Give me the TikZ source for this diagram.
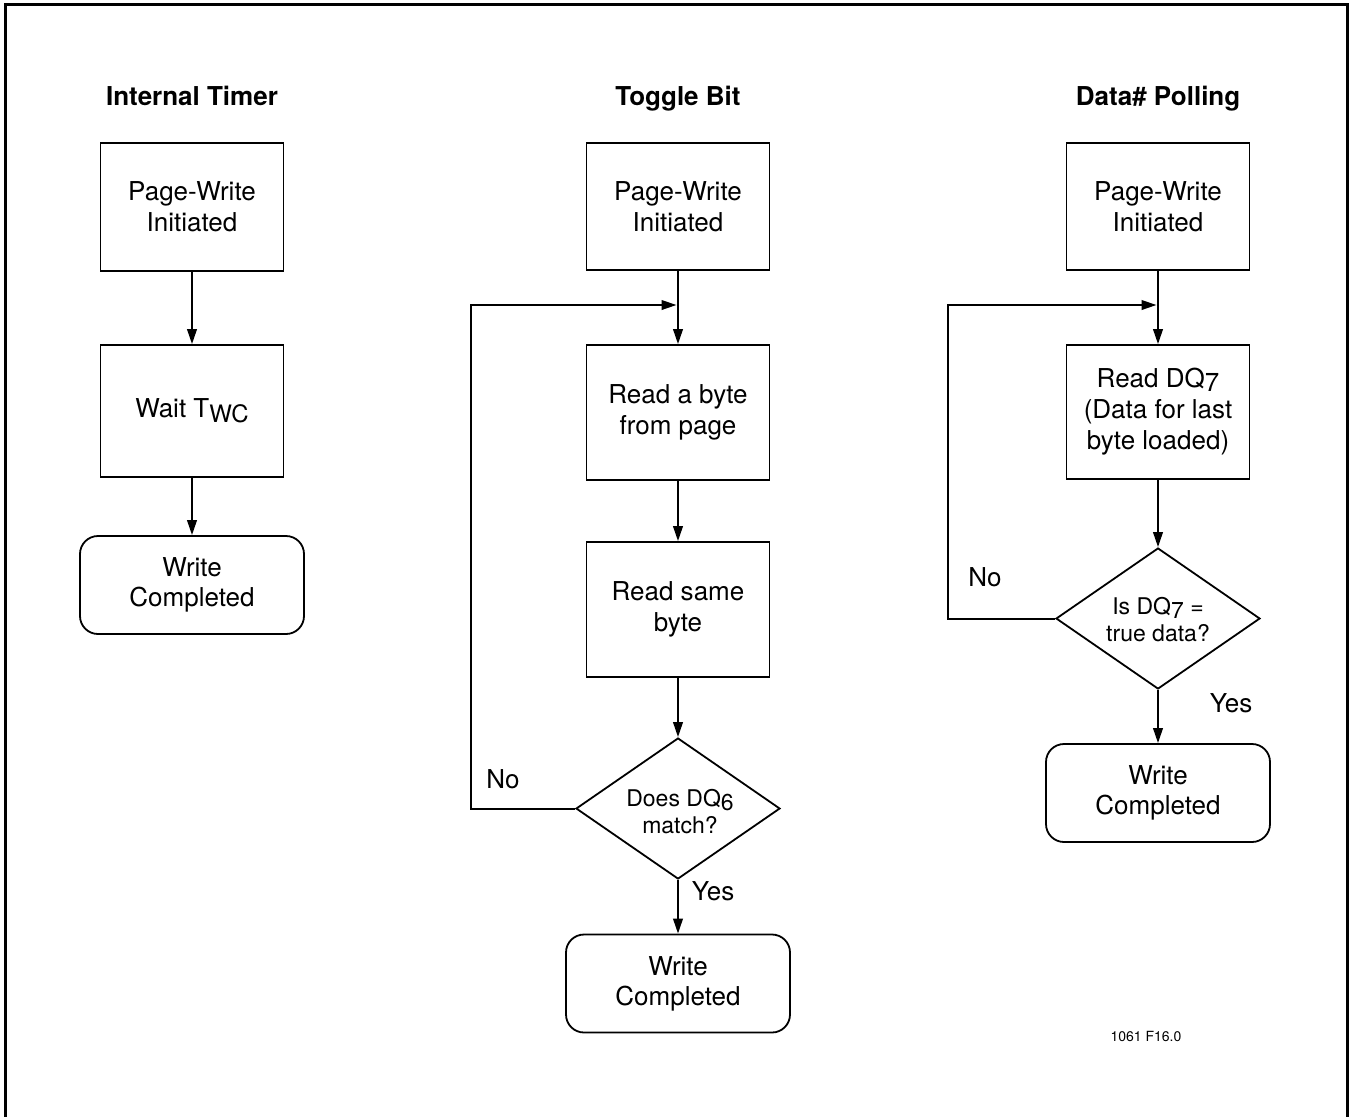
\documentclass[tikz,border=0pt]{standalone}
\usepackage{fontspec}
\setmainfont{TeX Gyre Heros}
\usetikzlibrary{shapes.geometric,arrows.meta}
\begin{document}
\begin{tikzpicture}[x=0.5pt,y=-0.5pt,
  boxnode/.style={draw, line width=0.9pt, minimum width=91.5pt, inner sep=0pt, align=center,
    font=\fontsize{13}{15.5}\selectfont},
  endnode/.style={draw, line width=0.9pt, rounded corners=9pt, minimum width=112pt, minimum height=49pt,
    inner sep=0pt, align=center, font=\fontsize{13}{15}\selectfont},
  decnode/.style={draw, line width=0.9pt, diamond, minimum width=102pt, minimum height=70.5pt, inner sep=0pt},
  dectext/.style={align=center, inner sep=0pt, font=\fontsize{11.5}{13.5}\selectfont},
  titlenode/.style={font=\fontsize{13}{15}\selectfont\bfseries, inner sep=0pt, anchor=base},
  lbl/.style={font=\fontsize{13}{15}\selectfont, inner sep=0pt},
  arr/.style={line width=1pt, -{Triangle[length=7.5pt,width=4.8pt]}},
  ln/.style={line width=1pt}
]
\useasboundingbox (0,0) rectangle (1350,1116);
\draw[line width=1.5pt] (5,1118) -- (5,4) -- (1347,4) -- (1347,1118);

% ---- Internal Timer ----
\node[titlenode] (t1) at (192,105) {Internal Timer};
\node[boxnode, minimum height=64pt] (a1) at (192,207) {Page-Write\\Initiated};
\node[boxnode, minimum height=66pt] (a2) at (192,411) {Wait T\raisebox{-2.5pt}{\fontsize{12}{12}\selectfont WC}};
\node[endnode] (a3) at (192,585) {Write\\Completed};
\draw[arr] (a1) -- (a2);
\draw[arr] (a2) -- (a3);

% ---- Toggle Bit ----
\node[titlenode] (t2) at (678,105) {Toggle Bit};
\node[boxnode, minimum height=63.5pt] (b1) at (678,206.5) {Page-Write\\Initiated};
\node[boxnode, minimum height=67.5pt] (b2) at (678,412.5) {Read a byte\\from page};
\node[boxnode, minimum height=67.5pt] (b3) at (678,609.5) {Read same\\byte};
\node[decnode] (b4) at (678,808.5) {};
\node[dectext] (b4t) at (680,812) {Does DQ\raisebox{-2pt}{6}\\match?};
\node[endnode] (b5) at (678,983.5) {Write\\Completed};
\node[lbl] (b4no) at (503,779) {No};
\node[lbl] (b4yes) at (713,891) {Yes};
\coordinate (j2) at (676.5,305);
\coordinate (l2) at (471,305);
\draw[arr] (b1) -- (b2);
\draw[arr] (b2) -- (b3);
\draw[arr] (b3) -- (b4);
\draw[arr] (b4) -- (b5);
\draw[arr] (b4.west) -| (l2) -- (j2);

% ---- Data# Polling ----
\node[titlenode] (t3) at (1158,105) {Data\# Polling};
\node[boxnode, minimum height=63.5pt] (c1) at (1158,206.5) {Page-Write\\Initiated};
\node[boxnode, minimum height=67pt] (c2) at (1158,412) {Read DQ\raisebox{-2pt}{7}\\(Data for last\\byte loaded)};
\node[decnode] (c3) at (1158,618.5) {};
\node[dectext] (c3t) at (1158,620) {Is DQ\raisebox{-2pt}{7} =\\true data?};
\node[endnode] (c4) at (1158,793) {Write\\Completed};
\node[lbl] (c3no) at (985,577) {No};
\node[lbl] (c3yes) at (1231,703) {Yes};
\coordinate (j3) at (1156.5,305);
\coordinate (l3) at (948,305);
\draw[arr] (c1) -- (c2);
\draw[arr] (c2) -- (c3);
\draw[arr] (c3) -- (c4);
\draw[arr] (c3.west) -| (l3) -- (j3);

\node[font=\fontsize{7}{8}\selectfont, inner sep=0pt] (code) at (1146,1036) {1061 F16.0};
\end{tikzpicture}
\end{document}
